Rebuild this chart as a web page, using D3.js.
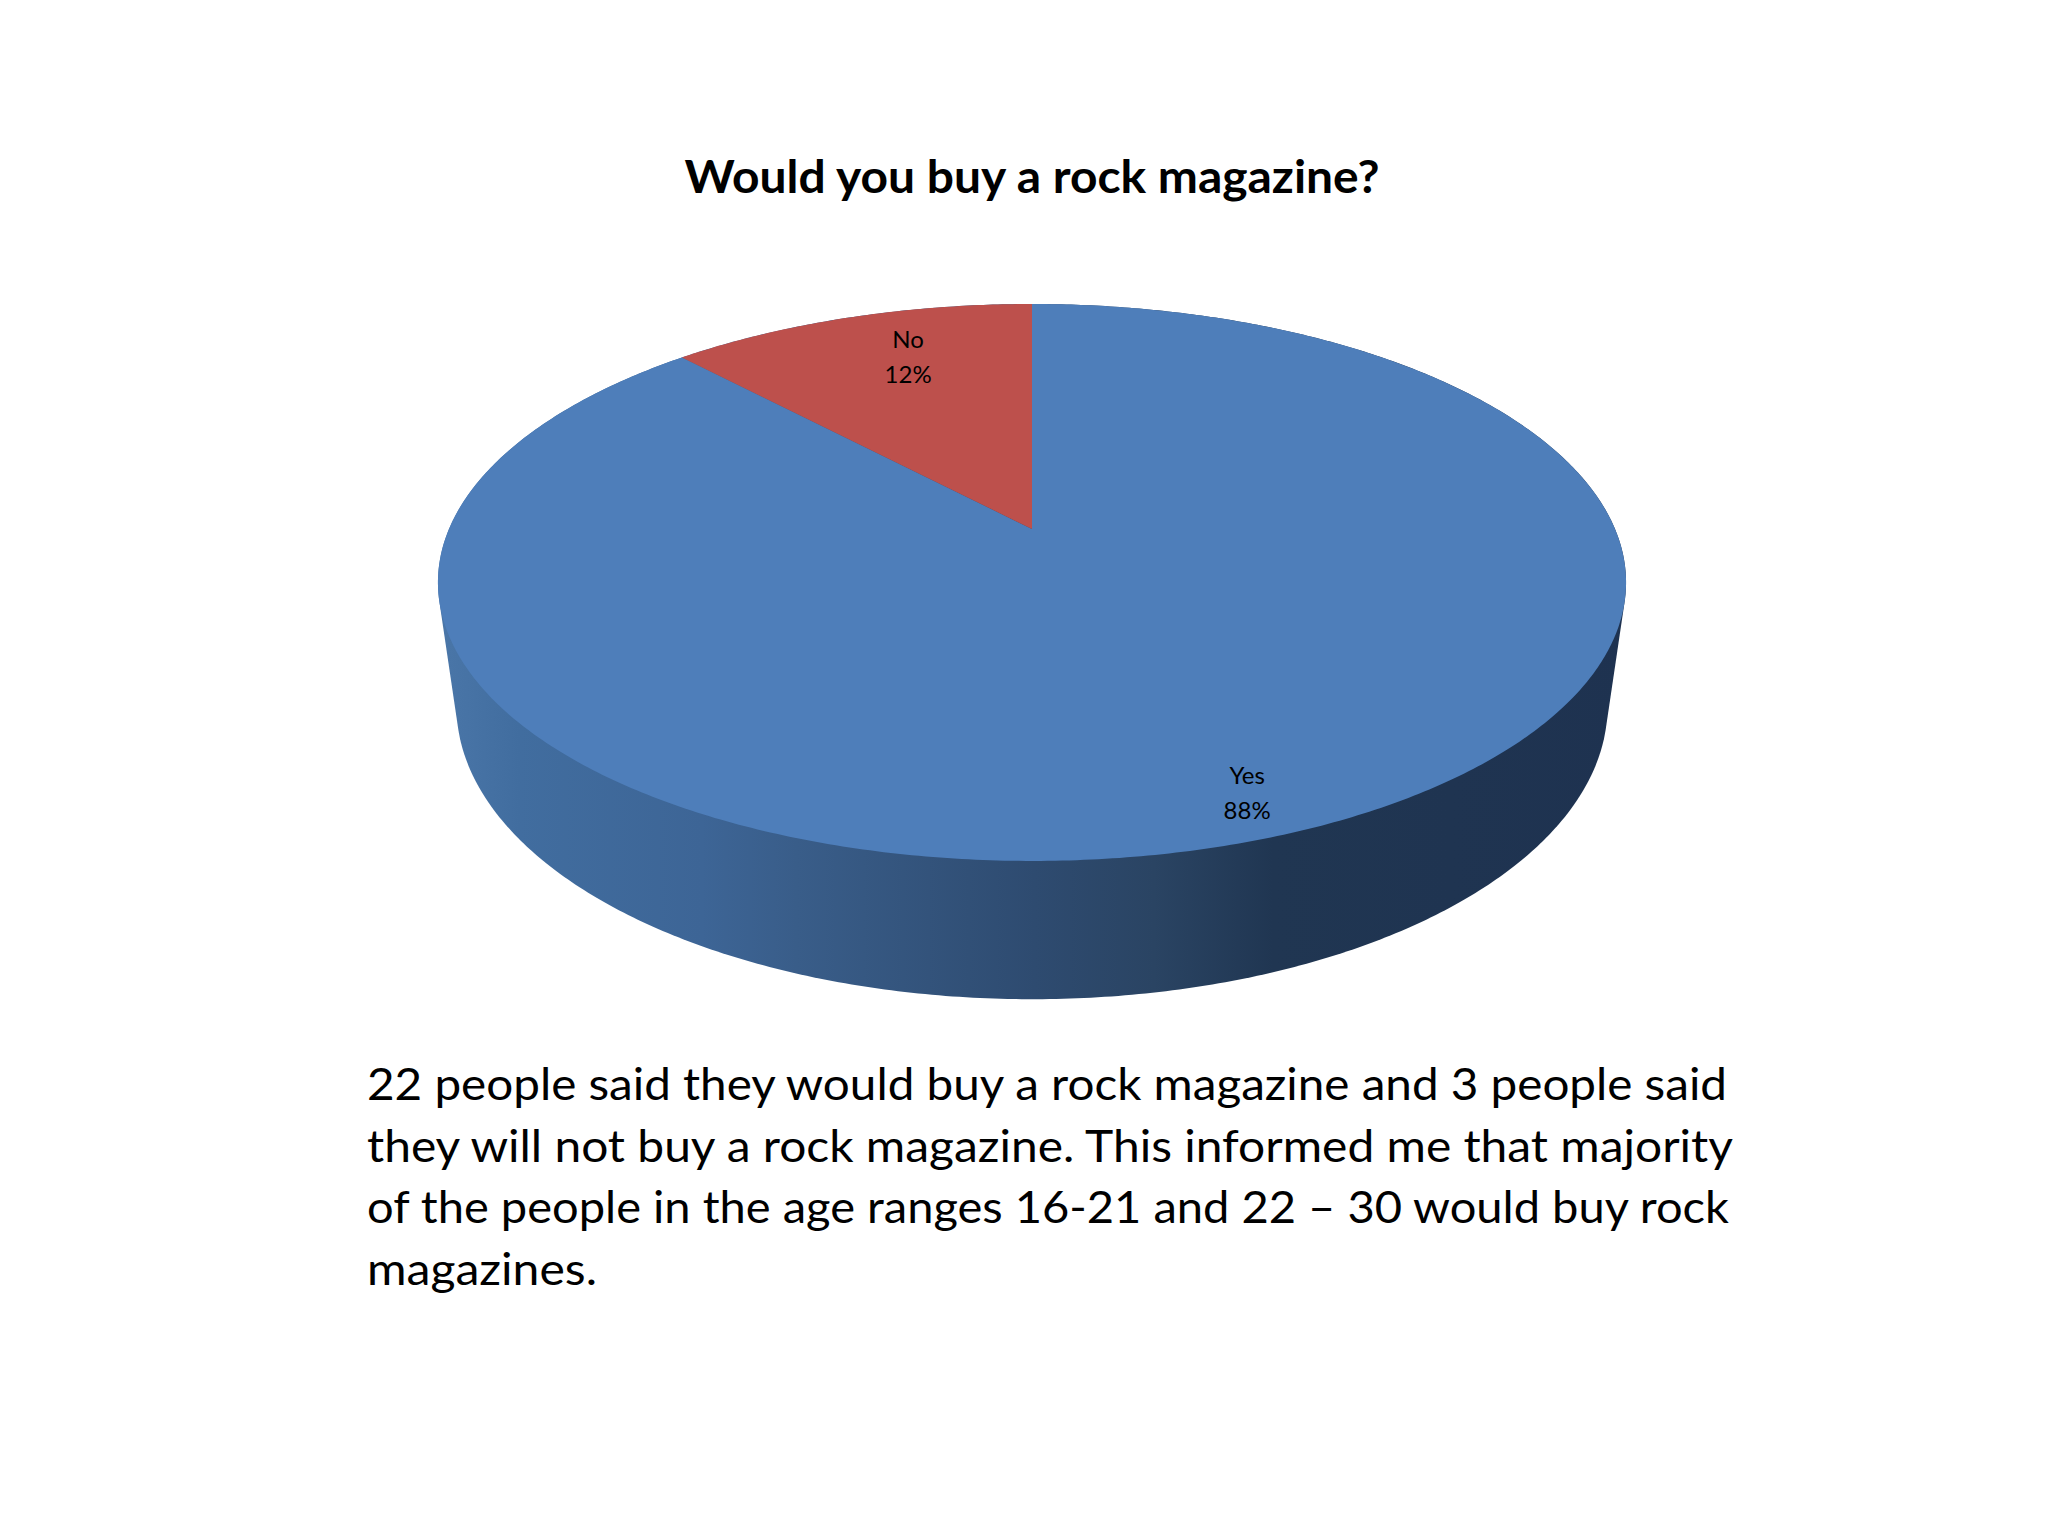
<html lang="en">
<head>
    <meta charset="UTF-8"/>
    <title>Would you buy a rock magazine?</title>
    <script src="https://d3js.org/d3.v7.min.js"></script>
    <style>
        body { margin: 0; background: white; }
        text { font-family: Lato, "Open Sans", sans-serif; fill: #000; }
    </style>
</head>
<body>
    <script>
        var chartTitle = "Would you buy a rock magazine?";
        var categories = ["Yes", "No"];
        var counts = [22, 3];
        var sliceColors = ["#4e7eba", "#bd504c"];
        var bodyLines = [
            "22 people said they would buy a rock magazine and 3 people said",
            "they will not buy a rock magazine. This informed me that majority",
            "of the people in the age ranges 16-21 and 22 \u2013 30 would buy rock",
            "magazines."
        ];

        var w = 2048;
        var h = 1536;

        // apex of the pie on the page and the perspective of the 3D view
        var cx = 1032;
        var cy = 529;
        var persp = 0.192;
        var sx = 583;
        var sy = 268.2;
        var depthScale = 0.031;
        var depthDrop = 126.3;

        // angle from 12 o'clock clockwise, r 0..1 on the disc, z 0 top / 1 bottom
        function project(angle, r, z) {
            var X = Math.sin(angle) * r;
            var Y = -Math.cos(angle) * r;
            var k = 1 - persp * Y + depthScale * z;
            return [cx + sx * X / k, cy + (sy * Y + depthDrop * z) / k];
        }

        function angleSteps(a0, a1) {
            var n = Math.max(2, Math.ceil((a1 - a0) / 0.01));
            return d3.range(n + 1).map(function(i) {
                return a0 + (a1 - a0) * i / n;
            });
        }

        var svg = d3.select("body")
                    .append("svg")
                    .attr("width", w)
                    .attr("height", h);

        var pie = d3.pie().sort(null);
        var slices = pie(counts);
        var total = d3.sum(counts);
        var pct = d3.format(".0%");
        var line = d3.line();

        // side wall, shaded left to right
        var grad = svg.append("defs").append("linearGradient")
            .attr("id", "wall")
            .attr("gradientUnits", "userSpaceOnUse")
            .attr("x1", 440).attr("x2", 1630)
            .attr("y1", 0).attr("y2", 0);
        [[0, "#4a76a8"], [0.067, "#416d9f"], [0.22, "#3d6596"], [0.3, "#395d89"],
         [0.5, "#2e4b70"], [0.6, "#2a4463"], [0.7, "#203652"], [1, "#1e3250"]].forEach(function(s) {
            grad.append("stop").attr("offset", s[0]).attr("stop-color", s[1]);
        });

        var rim = [];
        angleSteps(0, 2 * Math.PI).forEach(function(a) {
            rim.push(project(a, 1, 0));
            rim.push(project(a, 1, 1));
        });
        svg.append("path")
            .attr("d", "M" + d3.polygonHull(rim).join("L") + "Z")
            .attr("fill", "url(#wall)");

        // top of the pie
        svg.selectAll("path.slice")
            .data(slices)
            .enter()
            .append("path")
            .attr("class", "slice")
            .attr("fill", function(d, i) { return sliceColors[i]; })
            .attr("d", function(d) {
                var pts = angleSteps(d.startAngle, d.endAngle).map(function(a) {
                    return project(a, 1, 0);
                });
                return line([[cx, cy]].concat(pts)) + "Z";
            });

        // data labels, nudged the way the chart placed them
        var labelSpots = [{r: 0.89, dx: -12}, {r: 0.786, dx: 24}];
        var labels = svg.selectAll("g.label")
            .data(slices)
            .enter()
            .append("g")
            .attr("class", "label")
            .attr("transform", function(d, i) {
                var p = project((d.startAngle + d.endAngle) / 2, labelSpots[i].r, 0);
                return "translate(" + (p[0] + labelSpots[i].dx) + "," + p[1] + ")";
            })
            .attr("text-anchor", "middle")
            .style("font-size", "24px");
        labels.append("text")
            .attr("y", -9)
            .text(function(d, i) { return categories[i]; });
        labels.append("text")
            .attr("y", 26)
            .text(function(d) { return pct(d.value / total); });

        // title
        svg.append("text")
            .attr("x", 1032)
            .attr("y", 193)
            .attr("text-anchor", "middle")
            .attr("textLength", 695)
            .attr("lengthAdjust", "spacingAndGlyphs")
            .style("font-size", "45px")
            .style("font-weight", "700")
            .text(chartTitle);

        // note under the chart
        var lineWidths = [1360, 1366, 1362, 230];
        svg.selectAll("text.note")
            .data(bodyLines)
            .enter()
            .append("text")
            .attr("class", "note")
            .attr("x", 367)
            .attr("y", function(d, i) { return 1100 + i * 61.5; })
            .attr("textLength", function(d, i) { return lineWidths[i]; })
            .attr("lengthAdjust", "spacingAndGlyphs")
            .style("font-size", "44px")
            .text(function(d) { return d; });
    </script>
</body>
</html>
